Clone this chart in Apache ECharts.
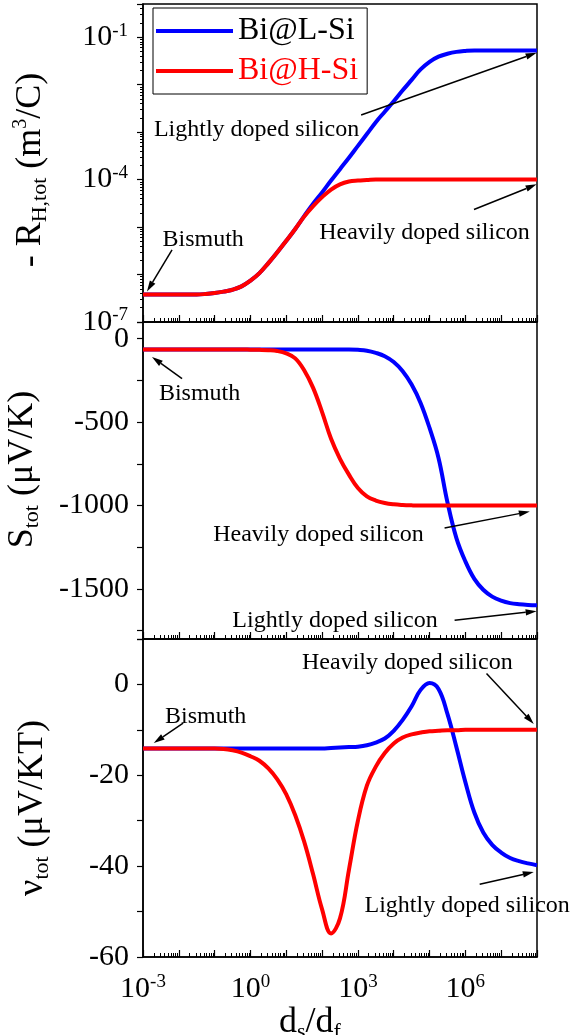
<!DOCTYPE html>
<html>
<head>
<meta charset="utf-8">
<script src="https://cdn.jsdelivr.net/npm/echarts@6/dist/echarts.min.js"></script>
<style>
  html, body { margin: 0; padding: 0; background: #fff; }
  #chart { width: 574px; height: 1035px; }
</style>
</head>
<body>
<div id="chart"></div>
<script>
// d_s/d_f, quarter decades from 1e-3 to 1e8
const ratio = [
  0.001, 0.00178, 0.00316, 0.00562,
  0.01, 0.0178, 0.0316, 0.0562,
  0.1, 0.178, 0.316, 0.562,
  1, 1.78, 3.16, 5.62,
  10, 17.8, 31.6, 56.2,
  100, 178, 316, 562,
  1000, 1780, 3160, 5620,
  1e4, 1.78e4, 3.16e4, 5.62e4,
  1e5, 1.78e5, 3.16e5, 5.62e5,
  1e6, 1.78e6, 3.16e6, 5.62e6,
  1e7, 1.78e7, 3.16e7, 5.62e7,
  1e8
];

// - R_H,tot (m^3/C)
const hallL = [
  3.8e-7, 3.8e-7, 3.8e-7, 3.8e-7,
  3.8e-7, 3.8e-7, 3.8e-7, 3.89e-7,
  4.07e-7, 4.37e-7, 4.79e-7, 5.62e-7,
  7.41e-7, 1.07e-6, 1.74e-6, 2.95e-6,
  5.13e-6, 9.12e-6, 1.70e-5, 3.09e-5,
  5.37e-5, 9.55e-5, 1.66e-4, 2.88e-4,
  5.13e-4, 9.12e-4, 1.62e-3, 2.69e-3,
  4.47e-3, 7.59e-3, 1.26e-2, 2.09e-2,
  3.02e-2, 3.89e-2, 4.47e-2, 4.90e-2,
  5.13e-2, 5.25e-2, 5.25e-2, 5.25e-2,
  5.25e-2, 5.25e-2, 5.25e-2, 5.25e-2,
  5.25e-2
];
const hallH = [
  3.8e-7, 3.8e-7, 3.8e-7, 3.8e-7,
  3.8e-7, 3.8e-7, 3.8e-7, 3.89e-7,
  4.07e-7, 4.37e-7, 4.79e-7, 5.62e-7,
  7.41e-7, 1.07e-6, 1.74e-6, 2.95e-6,
  5.13e-6, 9.12e-6, 1.66e-5, 2.75e-5,
  4.27e-5, 6.17e-5, 7.94e-5, 9.12e-5,
  9.55e-5, 9.77e-5, 1e-4, 1e-4,
  1e-4, 1e-4, 1e-4, 1e-4,
  1e-4, 1e-4, 1e-4, 1e-4,
  1e-4, 1e-4, 1e-4, 1e-4,
  1e-4, 1e-4, 1e-4, 1e-4,
  1e-4
];

// S_tot (uV/K)
const seebL = [
  -65, -65, -65, -65,
  -65, -65, -65, -65,
  -65, -65, -65, -65,
  -65, -65, -65, -65,
  -65, -65, -65, -65,
  -65, -65, -65, -65,
  -67, -72, -85, -105,
  -140, -195, -275, -385,
  -535, -715, -980, -1195,
  -1335, -1440, -1505, -1546,
  -1570, -1585, -1592, -1596,
  -1598
];
const seebH = [
  -65, -65, -65, -65,
  -65, -65, -65, -65,
  -65, -65, -65, -65,
  -66, -67, -69, -74,
  -88, -118, -189, -295,
  -440, -600, -720, -815,
  -895, -945, -970, -985,
  -993, -997, -999, -1000,
  -1000, -1000, -1000, -1000,
  -1000, -1000, -1000, -1000,
  -1000, -1000, -1000, -1000,
  -1000
];

// nu_tot (uV/KT)
const nernL = [
  -14.1, -14.1, -14.1, -14.1,
  -14.1, -14.1, -14.1, -14.1,
  -14.1, -14.1, -14.1, -14.1,
  -14.1, -14.1, -14.1, -14.1,
  -14.1, -14.1, -14.1, -14.1,
  -14.1, -14.0, -13.9, -13.8,
  -13.7, -13.4, -12.8, -11.9,
  -10.2, -7.8, -4.8, -1.2,
  0.3, -1.0, -6.5, -13.8,
  -21.5, -28.2, -32.6, -35.3,
  -37.0, -38.2, -38.9, -39.4,
  -39.8
];
const nernH = [
  -14.1, -14.1, -14.1, -14.1,
  -14.1, -14.1, -14.1, -14.1,
  -14.1, -14.2, -14.5, -15.0,
  -15.8, -16.8, -18.5, -20.9,
  -24.2, -28.8, -34.6, -41.8,
  -49.5, -54.8, -51.5, -40.8,
  -30.0, -22.3, -18.1, -15.1,
  -13.0, -11.7, -11.0, -10.6,
  -10.3, -10.2, -10.1, -10.1,
  -10.0, -10.0, -10.0, -10.0,
  -10.0, -10.0, -10.0, -10.0,
  -10.0
];

// labelled decades
const xLabelExp = [-3, 0, 3, 6];
const hallLabelExp = [-7, -4, -1];

// annotations: panel, text, text centre, arrow start, arrow tip (data coords)
const notes = [
  { g: 0, text: 'Lightly doped silicon', at: [1.48, 1.15e-3], from: [1230, 2.29e-3], to: [9.77e7, 4.68e-2] },
  { g: 0, text: 'Heavily doped silicon', at: [7.24e4, 7.59e-6], from: [1.74e6, 2.34e-5], to: [9.77e7, 7.94e-5] },
  { g: 0, text: 'Bismuth', at: [0.0479, 5.37e-6], from: [6.46e-3, 3.31e-6], to: [1.29e-3, 4.37e-7] },
  { g: 1, text: 'Bismuth', at: [0.038, -327], from: [0.0123, -239], to: [1.78e-3, -110] },
  { g: 1, text: 'Heavily doped silicon', at: [79.4, -1175], from: [2.63e5, -1135], to: [6.31e7, -1036] },
  { g: 1, text: 'Lightly doped silicon', at: [229, -1693], from: [5.01e5, -1687], to: [9.77e7, -1633] },
  { g: 2, text: 'Bismuth', at: [0.0562, -7], from: [0.0132, -8.5], to: [2.0e-3, -12.9] },
  { g: 2, text: 'Heavily doped silicon', at: [2.4e4, 4.8], from: [3.89e6, 2.4], to: [8.13e7, -8.7] },
  { g: 2, text: 'Lightly doped silicon', at: [1.12e6, -48.6], from: [2.51e6, -44], to: [8.13e7, -41.3] }
];

const FONT = '"Liberation Serif", "Times New Roman", serif';
const BLUE = '#0000ff';
const RED = '#ff0000';

function isDecade(v) {
  const e = Math.log10(v);
  return Math.abs(e - Math.round(e)) < 1e-6;
}
function powLabel(allowed) {
  return function (v) {
    if (!isDecade(v)) return '';
    const e = Math.round(Math.log10(v));
    return allowed.indexOf(e) >= 0 ? '{b|10}{s|' + e + '}' : '';
  };
}
const powRich = {
  b: { fontFamily: FONT, fontSize: 30, lineHeight: 32, color: '#000' },
  s: { fontFamily: FONT, fontSize: 19, lineHeight: 17, verticalAlign: 'top', color: '#000' }
};
const nameRich = {
  n: { fontFamily: FONT, fontSize: 36, lineHeight: 40, color: '#000' },
  sub: { fontFamily: FONT, fontSize: 22, lineHeight: 16, verticalAlign: 'bottom', color: '#000' },
  sup: { fontFamily: FONT, fontSize: 20, lineHeight: 20, verticalAlign: 'top', color: '#000' }
};

function makeX(g, showLabels) {
  const ax = {
    type: 'log', logBase: 10, gridIndex: g, min: 1e-3, max: 1e8, interval: 1,
    axisLine: { show: true, onZero: false, lineStyle: { color: '#000', width: 1.5 } },
    axisTick: { show: true, inside: true, length: 7, lineStyle: { color: '#000', width: 1.2 } },
    minorTick: { show: true, splitNumber: 9, length: 4, lineStyle: { color: '#000', width: 1 } },
    splitLine: { show: false },
    axisLabel: { show: showLabels, margin: 16, formatter: powLabel(xLabelExp), rich: powRich }
  };
  if (showLabels) {
    ax.name = '{n|d}{sub|s}{n|/d}{sub|f}';
    ax.nameLocation = 'middle';
    ax.nameGap = 41;
    ax.nameTextStyle = { fontFamily: FONT, fontSize: 36, rich: nameRich, padding: [0, 60, 0, 0] };
  }
  return ax;
}

const yCommon = {
  axisLine: { show: true, lineStyle: { color: '#000', width: 1.5 } },
  axisTick: { show: true, inside: false, length: 6, lineStyle: { color: '#000', width: 1.2 } },
  splitLine: { show: false },
  nameLocation: 'middle',
  nameRotate: 90
};

const chart = echarts.init(document.getElementById('chart'));

function line(name, color, xi, ys) {
  return {
    type: 'line', name: name, xAxisIndex: xi, yAxisIndex: xi,
    data: ratio.map(function (x, i) { return [x, ys[i]]; }),
    symbol: 'none', showSymbol: false, smooth: 0.4,
    lineStyle: { color: color, width: 4 }, itemStyle: { color: color },
    animation: false
  };
}

const gridBase = { left: 143, right: 37, show: true, borderColor: '#000', borderWidth: 1.5, containLabel: false, outerBoundsMode: 'none' };

chart.setOption({
  backgroundColor: '#fff',
  animation: false,
  grid: [
    Object.assign({ top: 4, height: 318 }, gridBase),
    Object.assign({ top: 322, height: 317 }, gridBase),
    Object.assign({ top: 639, height: 318 }, gridBase)
  ],
  xAxis: [makeX(0, false), makeX(1, false), makeX(2, true)],
  yAxis: [
    Object.assign({}, yCommon, {
      type: 'log', logBase: 10, gridIndex: 0, min: 1e-7, max: 0.5, interval: 1,
      minorTick: { show: true, splitNumber: 9, length: 3, lineStyle: { color: '#000', width: 1 } },
      axisLabel: { margin: 15, formatter: powLabel(hallLabelExp), rich: powRich },
      name: '{n|- R}{sub|H,tot}{n| (m}{sup|3}{n|/C)}', nameGap: 92,
      nameTextStyle: { fontFamily: FONT, fontSize: 36, rich: nameRich, padding: [0, 14, 0, 0] }
    }),
    Object.assign({}, yCommon, {
      type: 'value', gridIndex: 1, min: -1800, max: 100, minInterval: 250, maxInterval: 250,
      axisLabel: {
        margin: 14, fontFamily: FONT, fontSize: 30, color: '#000',
        formatter: function (v) { return (v % 500 === 0 && v <= 0 && v >= -1500) ? String(v) : ''; }
      },
      name: '{n|S}{sub|tot}{n| (μV/K)}', nameGap: 100,
      nameTextStyle: { fontFamily: FONT, fontSize: 36, rich: nameRich, padding: [0, 0, 0, 22] }
    }),
    Object.assign({}, yCommon, {
      type: 'value', gridIndex: 2, min: -60, max: 10, interval: 10,
      axisLabel: {
        margin: 14, fontFamily: FONT, fontSize: 30, color: '#000',
        formatter: function (v) { return (v % 20 === 0) ? String(v) : ''; }
      },
      name: '{n|ν}{sub|tot}{n| (μV/KT)}', nameGap: 90,
      nameTextStyle: { fontFamily: FONT, fontSize: 36, rich: nameRich, padding: [0, 20, 0, 0] }
    })
  ],
  legend: {
    orient: 'vertical', left: 153, top: 8, padding: [7, 9, 7, 3], itemGap: 8,
    icon: 'rect', itemWidth: 77, itemHeight: 4,
    borderColor: '#000', borderWidth: 1, backgroundColor: '#fff',
    textStyle: { fontFamily: FONT, fontSize: 32, color: '#000' },
    data: [
      { name: 'Bi@L-Si', textStyle: { color: '#000' } },
      { name: 'Bi@H-Si', textStyle: { color: RED } }
    ]
  },
  series: [
    line('Bi@L-Si', BLUE, 0, hallL), line('Bi@H-Si', RED, 0, hallH),
    line('Bi@L-Si', BLUE, 1, seebL), line('Bi@H-Si', RED, 1, seebH),
    line('Bi@L-Si', BLUE, 2, nernL), line('Bi@H-Si', RED, 2, nernH)
  ]
});

// annotations placed through the axes
const graphics = [];
notes.forEach(function (n) {
  const p0 = chart.convertToPixel({ gridIndex: n.g }, n.from);
  const p1 = chart.convertToPixel({ gridIndex: n.g }, n.to);
  const pt = chart.convertToPixel({ gridIndex: n.g }, n.at);
  const dx = p1[0] - p0[0], dy = p1[1] - p0[1];
  const len = Math.sqrt(dx * dx + dy * dy);
  const ux = dx / len, uy = dy / len;
  const head = 11, half = 3.2;
  const bx = p1[0] - ux * head, by = p1[1] - uy * head;
  graphics.push({
    type: 'line', z: 50,
    shape: { x1: p0[0], y1: p0[1], x2: bx, y2: by },
    style: { stroke: '#000', lineWidth: 1.5 }
  });
  graphics.push({
    type: 'polygon', z: 50,
    shape: { points: [[p1[0], p1[1]], [bx - uy * half, by + ux * half], [bx + uy * half, by - ux * half]] },
    style: { fill: '#000' }
  });
  graphics.push({
    type: 'text', z: 50, x: pt[0], y: pt[1],
    style: {
      text: n.text, font: '24px ' + FONT, fill: '#000',
      align: 'center', verticalAlign: 'middle', textAlign: 'center', textVerticalAlign: 'middle'
    }
  });
});
chart.setOption({ graphic: graphics });
</script>
</body>
</html>
